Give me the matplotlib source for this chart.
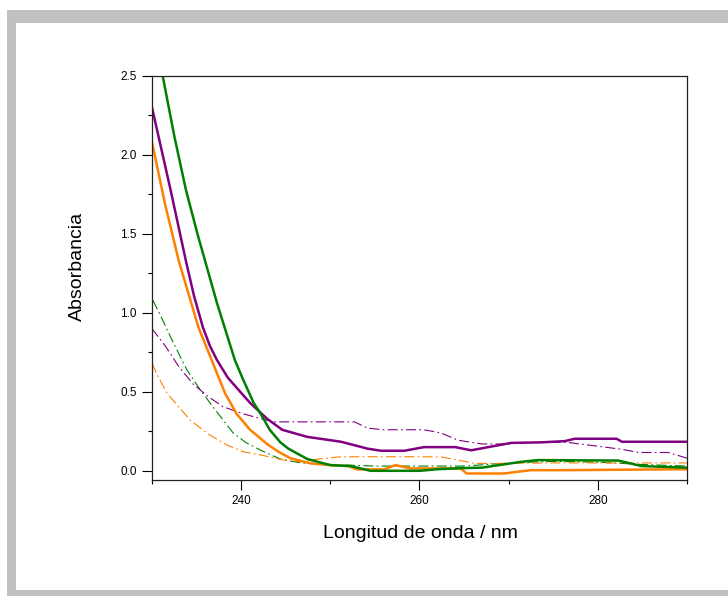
import matplotlib.pyplot as plt
from matplotlib.patches import Rectangle
from matplotlib.ticker import MultipleLocator

plt.rcParams['font.family'] = ['Liberation Sans', 'DejaVu Sans']

# Solid curves (wavelength nm, absorbance)
green_x = [229.8, 231.2, 232.5, 233.8, 235.1, 236.4, 237.3, 238.3, 239.3, 240.2, 241.4, 242.2, 243.2,
           244.4, 245.3, 247.4, 250.0, 252.3, 254.5, 260.0, 262.0, 264.7, 267.0, 271.4, 273.3,
           282.3, 284.9, 290.0]
green_y = [2.80, 2.50, 2.12, 1.78, 1.50, 1.24, 1.06, 0.88, 0.70, 0.58, 0.43, 0.36, 0.26,
           0.18, 0.14, 0.075, 0.036, 0.03, 0.0, 0.0, 0.01, 0.017, 0.02, 0.057, 0.068,
           0.065, 0.03, 0.02]

purple_x = [230.0, 232.0, 233.8, 234.7, 235.7, 236.5, 237.3, 238.5, 239.9, 241.0, 242.9, 244.6,
            247.4, 251.2, 254.2, 255.7, 258.3, 260.5, 264.0, 265.8, 270.3, 273.6, 276.3, 277.4,
            282.1, 282.7, 290.0]
purple_y = [2.30, 1.80, 1.33, 1.11, 0.91, 0.79, 0.70, 0.59, 0.50, 0.43, 0.33, 0.26,
            0.215, 0.184, 0.14, 0.127, 0.127, 0.15, 0.15, 0.13, 0.177, 0.18, 0.188, 0.203,
            0.203, 0.184, 0.184]

orange_x = [230.0, 231.5, 233.0, 234.1, 235.2, 236.7, 238.2, 239.5, 241.0, 242.9, 244.2, 245.5,
            247.8, 250.0, 252.0, 253.0, 256.0, 257.3, 259.0, 264.6, 265.3, 269.5, 271.0, 272.5,
            276.0, 290.0]
orange_y = [2.08, 1.68, 1.33, 1.12, 0.91, 0.70, 0.49, 0.36, 0.26, 0.17, 0.12, 0.08,
            0.047, 0.036, 0.03, 0.009, 0.009, 0.036, 0.015, 0.015, -0.017, -0.017, -0.006, 0.004,
            0.004, 0.01]

# Dash-dot curves
green_dd_x = [230.1, 230.9, 232.4, 233.9, 235.2, 236.5, 238.0, 239.1, 240.5, 242.2, 244.4,
              246.7, 250.0, 255.0, 260.0, 265.0, 270.0, 275.0, 280.0, 285.0, 290.0]
green_dd_y = [1.08, 0.99, 0.81, 0.64, 0.53, 0.43, 0.32, 0.24, 0.18, 0.13, 0.074,
              0.05, 0.04, 0.03, 0.03, 0.03, 0.05, 0.06, 0.055, 0.04, 0.03]

purple_dd_x = [230.0, 231.5, 233.0, 234.6, 236.3, 238.0, 240.3, 242.2, 243.7, 252.7, 254.2,
               256.0, 260.5, 262.4, 264.3, 267.0, 269.9, 272.5, 276.6, 280.8, 282.7, 284.6,
               287.9, 290.0]
purple_dd_y = [0.90, 0.79, 0.66, 0.55, 0.47, 0.405, 0.36, 0.33, 0.31, 0.31, 0.27,
               0.26, 0.26, 0.24, 0.194, 0.17, 0.17, 0.18, 0.18, 0.15, 0.136, 0.116,
               0.116, 0.08]

orange_dd_x = [230.0, 230.7, 231.7, 233.0, 234.3, 236.2, 238.4, 240.3, 242.2, 244.8, 246.7,
               248.5, 251.2, 258.8, 262.4, 264.3, 266.2, 268.8, 275.0, 283.8, 290.0]
orange_dd_y = [0.68, 0.595, 0.49, 0.405, 0.32, 0.237, 0.163, 0.12, 0.10, 0.068, 0.057,
               0.074, 0.089, 0.089, 0.088, 0.068, 0.047, 0.047, 0.05, 0.05, 0.05]

green = "#008000"
purple = "#800080"
orange = "#FF8000"

fig = plt.figure(figsize=(7.28, 5.96), dpi=100)

# grey frame around the plot
fig.patches.append(Rectangle((7 / 728, 0), 1, 586 / 596, transform=fig.transFigure,
                             facecolor="#C0C0C0", edgecolor="none", zorder=-2))
fig.patches.append(Rectangle((16 / 728, 6 / 596), 1, 567 / 596, transform=fig.transFigure,
                             facecolor="white", edgecolor="none", zorder=-1))

ax = fig.add_axes([152 / 728, (596 - 479.5) / 596, 535 / 728, 403.5 / 596])

dd = (0, (9, 3, 1.5, 3))
ax.plot(green_dd_x, green_dd_y, color=green, lw=0.8, linestyle=dd)
ax.plot(purple_dd_x, purple_dd_y, color=purple, lw=0.8, linestyle=dd)
ax.plot(orange_dd_x, orange_dd_y, color=orange, lw=0.8, linestyle=dd)

ax.plot(orange_x, orange_y, color=orange, lw=1.8)
ax.plot(purple_x, purple_y, color=purple, lw=1.8)
ax.plot(green_x, green_y, color=green, lw=1.8)

ax.set_xlim(230, 290)
ax.set_ylim(-0.055, 2.5)

ax.xaxis.set_major_locator(MultipleLocator(20))
ax.xaxis.set_minor_locator(MultipleLocator(10))
ax.yaxis.set_major_locator(MultipleLocator(0.5))
ax.yaxis.set_minor_locator(MultipleLocator(0.25))
ax.xaxis.set_major_formatter(plt.FuncFormatter(lambda v, p: f"{v:.0f}" if v > 230 else ""))
ax.yaxis.set_major_formatter(plt.FuncFormatter(lambda v, p: f"{v:.1f}"))

ax.tick_params(which="major", direction="out", length=7, width=0.8, labelsize=8.5, pad=4)
ax.tick_params(which="minor", direction="out", length=3, width=0.8)
for s in ax.spines.values():
    s.set_linewidth(0.9)
    s.set_color("#222222")

fig.text(420 / 728, 1 - 533 / 596, "Longitud de onda / nm", ha="center", va="center", fontsize=14)
fig.text(77 / 728, 1 - 266 / 596, "Absorbancia", ha="center", va="center", rotation=90, fontsize=14)

fig.savefig("out.png", dpi=100)
